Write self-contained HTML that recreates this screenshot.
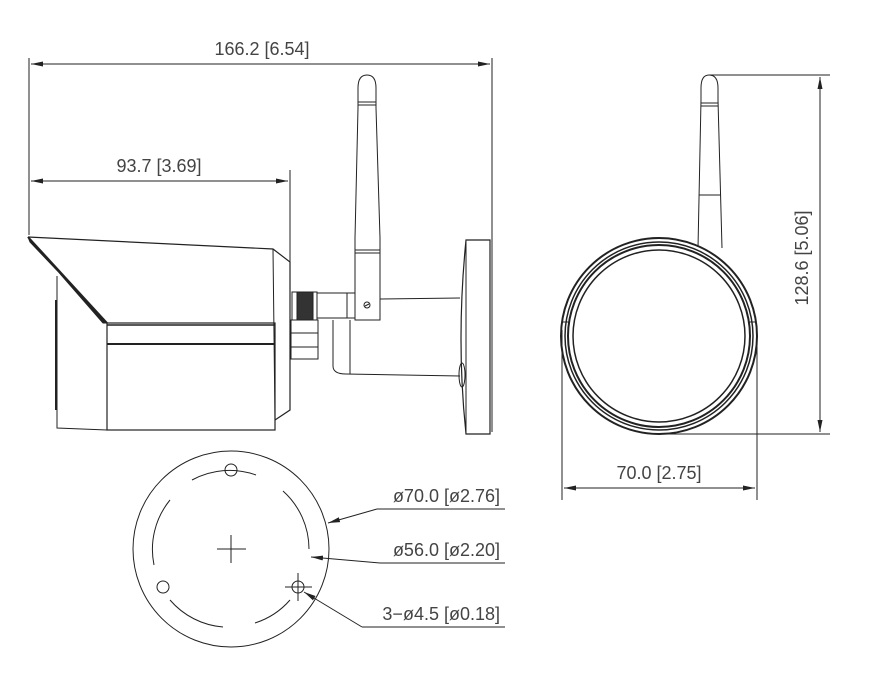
<!DOCTYPE html>
<html><head><meta charset="utf-8"><style>
html,body{margin:0;padding:0;background:#fff;}
svg{display:block}
text{font-family:"Liberation Sans",sans-serif;fill:#444;}
</style></head><body>
<svg width="881" height="697" viewBox="0 0 881 697" xmlns="http://www.w3.org/2000/svg">
<defs>
<marker id="a" markerWidth="12" markerHeight="6" refX="12" refY="3" orient="auto-start-reverse" markerUnits="userSpaceOnUse">
<path d="M0,0.5 L12,3 L0,5.5 Z" fill="#222"/></marker>
</defs>
<g stroke="#222" stroke-width="1" fill="none">
<line x1="29" y1="58" x2="29" y2="235"/>
<line x1="492" y1="58" x2="492" y2="432"/>
<line x1="31" y1="64" x2="490" y2="64" marker-start="url(#a)" marker-end="url(#a)"/>
<line x1="290" y1="170" x2="290" y2="262"/>
<line x1="31" y1="181" x2="288" y2="181" marker-start="url(#a)" marker-end="url(#a)"/>

<path d="M28,237 L273,249 L290,262 L290,410 L275,420" stroke-width="1.2"/>
<path d="M28,237 L30,242 L107,323 L103,323 Z" fill="#222"/>
<line x1="28" y1="237" x2="107" y2="323" stroke-width="2"/>
<path d="M273,249 L275,420"/>
<rect x="107" y="323" width="168" height="107" stroke-width="1.2"/>
<line x1="107" y1="344" x2="275" y2="344" stroke-width="2"/>
<line x1="107" y1="325" x2="275" y2="325" stroke-width="1.5"/>
<path d="M57,276 L57,428 L107,430"/>
<line x1="56" y1="300" x2="56" y2="410" stroke-width="2"/>

<rect x="292" y="292" width="25" height="28"/>
<rect x="297" y="292" width="16" height="28" fill="#333"/>
<rect x="291" y="320" width="27" height="39"/>
<line x1="291" y1="333" x2="318" y2="333"/>
<line x1="291" y1="347" x2="318" y2="347"/>
<rect x="317" y="293" width="38" height="25"/>
<line x1="347" y1="293" x2="347" y2="318"/>
<path d="M333,320 L333,366 Q333,374 346,374 L460,376"/>
<line x1="350" y1="320" x2="350" y2="374"/>
<line x1="380" y1="299" x2="460" y2="298"/>
<path d="M355,320 L355,238 L358,108 L358,88 Q358,75 367,75 Q376,75 376,88 L376,108 L380,238 L380,320 Z" fill="#fff"/>
<line x1="358" y1="102" x2="376" y2="102"/>
<line x1="358" y1="105" x2="376" y2="105"/>
<line x1="355" y1="250" x2="380" y2="250"/>
<line x1="355" y1="253" x2="380" y2="253"/>
<circle cx="367" cy="305" r="3"/>
<line x1="365" y1="306" x2="369" y2="304"/>
<path d="M466,240 L490,240 L490,434 L466,434 Q456,340 466,240 Z" fill="#fff" stroke-width="1.2"/>
<line x1="466" y1="240" x2="466" y2="434"/>
<line x1="492" y1="250" x2="492" y2="425"/>
<ellipse cx="462" cy="375" rx="3" ry="12"/>

<path d="M698,248 L701,100 L701,88 Q701,75 709,75 Q718,75 718,88 L718,100 L722,248" fill="#fff"/>
<line x1="701" y1="103" x2="718" y2="103"/>
<line x1="701" y1="106" x2="718" y2="106"/>
<line x1="699" y1="195" x2="721" y2="195"/>
<circle cx="659" cy="336" r="98" stroke-width="2" fill="#fff"/>
<circle cx="659" cy="336" r="94" stroke-width="1.5"/>
<circle cx="659" cy="336" r="91" stroke-width="2"/>
<circle cx="659" cy="336" r="86" stroke-width="1.5"/>
<line x1="562" y1="322" x2="570" y2="322"/>
<line x1="748" y1="322" x2="756" y2="322"/>
<line x1="709" y1="75" x2="830" y2="75"/>
<line x1="659" y1="434" x2="830" y2="434"/>
<line x1="820" y1="77" x2="820" y2="432" marker-start="url(#a)" marker-end="url(#a)"/>
<line x1="562" y1="330" x2="562" y2="500"/>
<line x1="757" y1="330" x2="757" y2="500"/>
<line x1="564" y1="488" x2="755" y2="488" marker-start="url(#a)" marker-end="url(#a)"/>

<circle cx="231" cy="549" r="98"/>
<path d="M192,480 A78,78 0 0 1 256,475"/>
<path d="M283,491 A78,78 0 0 1 309,549"/>
<path d="M170,500 A78,78 0 0 0 154,565"/>
<path d="M170,600 A78,78 0 0 0 223,627"/>
<path d="M255,623 A78,78 0 0 0 290,600"/>
<circle cx="231" cy="470" r="6"/>
<circle cx="163" cy="587" r="6"/>
<circle cx="298" cy="587" r="6"/>
<line x1="285" y1="587" x2="312" y2="587"/>
<line x1="298" y1="573" x2="298" y2="601"/>
<line x1="217" y1="549" x2="246" y2="549"/>
<line x1="231" y1="535" x2="231" y2="563"/>
<line x1="377" y1="509" x2="505" y2="509"/>
<line x1="377" y1="509" x2="328" y2="523" marker-end="url(#a)"/>
<line x1="380" y1="563" x2="505" y2="563"/>
<line x1="380" y1="563" x2="311" y2="557" marker-end="url(#a)"/>
<line x1="362" y1="627" x2="505" y2="627"/>
<line x1="362" y1="627" x2="304" y2="592" marker-end="url(#a)"/>
</g>
<g font-size="18">
<text x="262" y="55" text-anchor="middle">166.2 [6.54]</text>
<text x="159" y="172" text-anchor="middle">93.7 [3.69]</text>
<text x="659" y="479" text-anchor="middle">70.0 [2.75]</text>
<text x="0" y="0" text-anchor="middle" transform="translate(808,258) rotate(-90)">128.6 [5.06]</text>
<text x="500" y="502" text-anchor="end">ø70.0 [ø2.76]</text>
<text x="500" y="556" text-anchor="end">ø56.0 [ø2.20]</text>
<text x="500" y="620" text-anchor="end">3−ø4.5 [ø0.18]</text>
</g>
</svg>
</body></html>
